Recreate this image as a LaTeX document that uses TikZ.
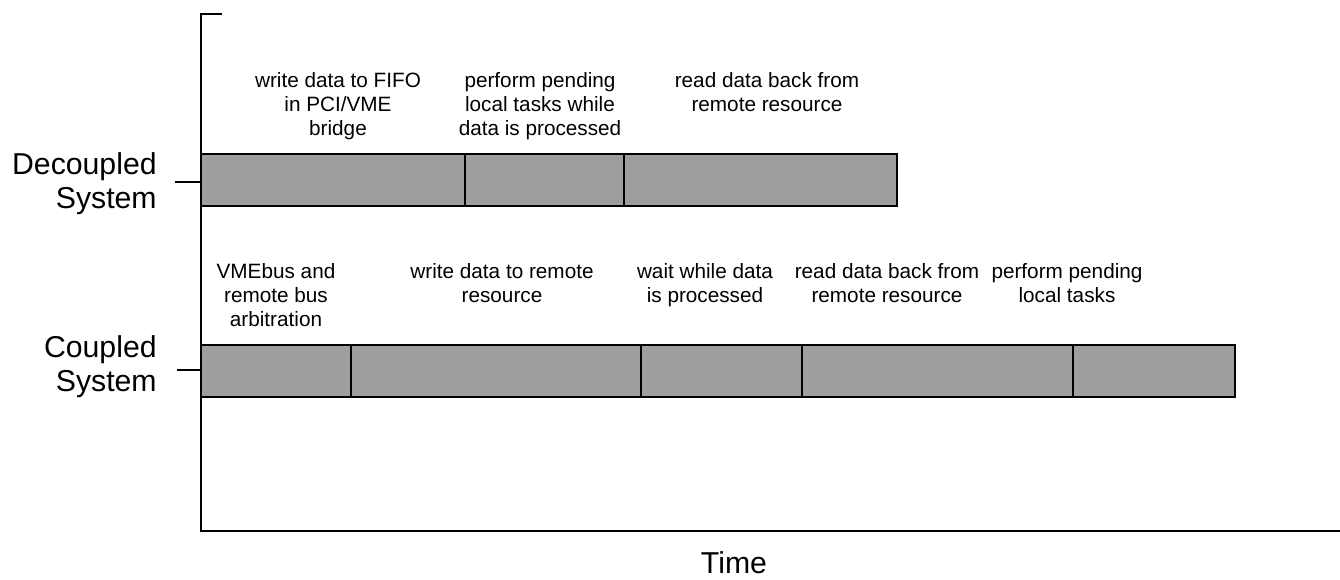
\documentclass[tikz,border=0pt]{standalone}
\usepackage{fontspec}
\setmainfont{Liberation Sans}
\usetikzlibrary{positioning}

\tikzset{
  barseg/.style={fill=black!38, draw=black, line width=1.6pt},
  axisline/.style={line width=1.2pt},
  tasklabel/.style={align=center, anchor=north, inner sep=0pt,
    font=\fontsize{11.8}{13.6}\selectfont},
  syslabel/.style={align=right, anchor=east, inner sep=0pt,
    font=\fontsize{17.2}{19.3}\selectfont},
}

\begin{document}
\begin{tikzpicture}[x=0.02cm, y=-0.02cm]
\useasboundingbox (0,0) rectangle (1340,580);
%% Axes
\coordinate (topTick) at (222,14);
\coordinate (axisTop) at (201,14);
\coordinate (origin) at (201,531);
\coordinate (axisEnd) at (1340,531);
\draw[axisline] (topTick) -- (axisTop) -- (origin) -- (axisEnd);
\node[font=\fontsize{17.2}{19.3}\selectfont] (time) at (734,563) {Time};
%% System labels with their ticks
\node[syslabel] (decSys) at (157,184) {Decoupled\\System};
\node[syslabel] (coupSys) at (157,367) {Coupled\\System};
\coordinate (decTick) at (175,182);
\coordinate (coupTick) at (177,370);
\draw[axisline] (decTick) -- (201,182);
\draw[axisline] (coupTick) -- (201,370);
%% Decoupled system bar
\foreach \a/\b in {201/465,465/624,624/897}{
  \draw[barseg] (\a,154) rectangle (\b,206);
}
\node[tasklabel] (decWrite) at (338,72) {write data to FIFO\\in PCI/VME\\bridge};
\node[tasklabel] (decLocal) at (540,72) {perform pending\\local tasks while\\data is processed};
\node[tasklabel] (decRead) at (767,72) {read data back from\\remote resource};
%% Coupled system bar
\foreach \a/\b in {201/351,351/641,641/802,802/1073,1073/1235}{
  \draw[barseg] (\a,345) rectangle (\b,397);
}
\node[tasklabel] (coupArb) at (276,263) {VMEbus and\\remote bus\\arbitration};
\node[tasklabel] (coupWrite) at (502,263) {write data to remote\\resource};
\node[tasklabel] (coupWait) at (705,263) {wait while data\\is processed};
\node[tasklabel] (coupRead) at (887,263) {read data back from\\remote resource};
\node[tasklabel] (coupLocal) at (1067,263) {perform pending\\local tasks};
\end{tikzpicture}
\end{document}
